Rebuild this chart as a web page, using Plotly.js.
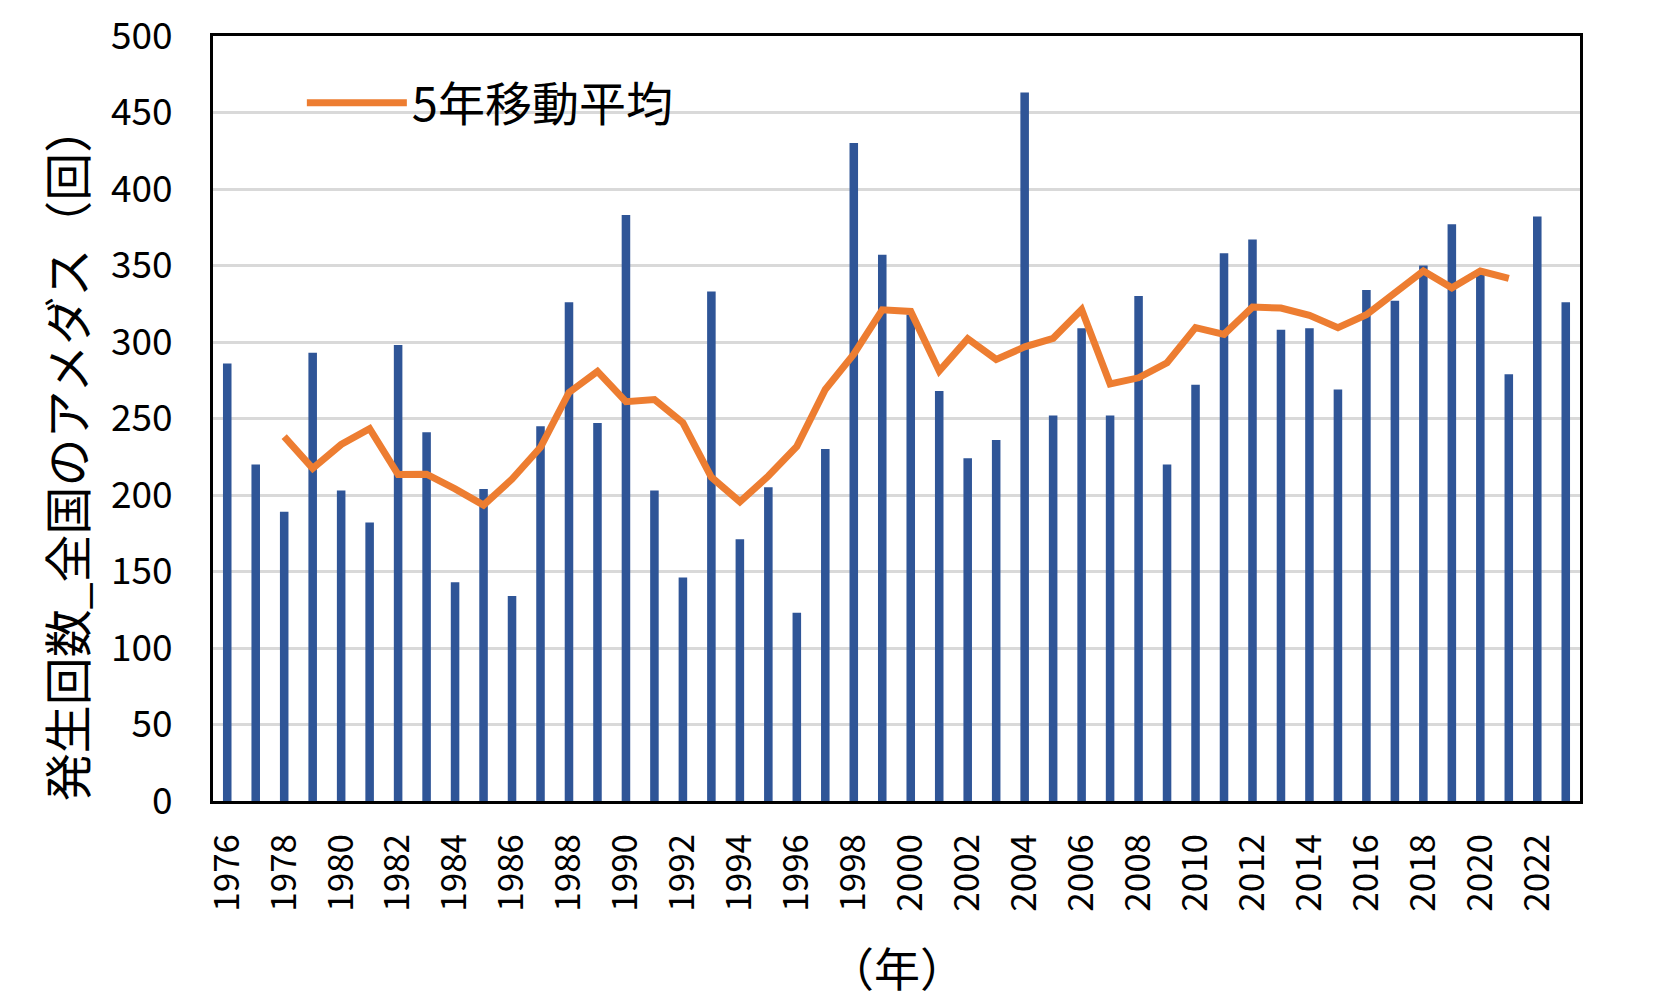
<!DOCTYPE html>
<html>
<head>
<meta charset="utf-8">
<script src="https://cdn.plot.ly/plotly-3.0.1.min.js"></script>
<style>
html,body{margin:0;padding:0;background:#fff;}
#chart{width:1677px;height:1005px;}
</style>
</head>
<body>
<div id="chart"></div>
<script>
// 年
var years = [1976,1977,1978,1979,1980,1981,1982,1983,1984,1985,1986,1987,1988,1989,1990,1991,1992,1993,1994,1995,1996,1997,1998,1999,2000,2001,2002,2003,2004,2005,2006,2007,2008,2009,2010,2011,2012,2013,2014,2015,2016,2017,2018,2019,2020,2021,2022,2023];
// 発生回数_全国のアメダス（回）
var counts = [286,220,189,293,203,182,298,241,143,204,134,245,326,247,383,203,146,333,171,205,123,230,430,357,318,268,224,236,463,252,309,252,330,220,272,358,367,308,309,269,334,327,350,377,345,279,382,326];
// 5年移動平均 (1978–2021)
var maYears = [1978,1979,1980,1981,1982,1983,1984,1985,1986,1987,1988,1989,1990,1991,1992,1993,1994,1995,1996,1997,1998,1999,2000,2001,2002,2003,2004,2005,2006,2007,2008,2009,2010,2011,2012,2013,2014,2015,2016,2017,2018,2019,2020,2021];
var maValues = [238.2,217.4,233,243.4,213.4,213.6,204,193.4,210.4,231.2,267,280.8,261,262.4,247.2,211.6,195.6,212.4,231.8,269,292,321,320,281,302.2,288.6,296.8,302.4,321.2,272.6,276.6,286.4,309.4,305,322.8,322.2,317.4,309.4,317.8,331.4,346.4,335.4,346.4,341.6];
// 目盛り
var xTickVals = [1976,1978,1980,1982,1984,1986,1988,1990,1992,1994,1996,1998,2000,2002,2004,2006,2008,2010,2012,2014,2016,2018,2020,2022];
var yTickVals = [0,50,100,150,200,250,300,350,400,450,500];

var FONT = '"Noto Sans CJK JP", "Noto Sans", sans-serif';

var traces = [
  {
    type: 'bar',
    x: years,
    y: counts,
    marker: {color: '#2F5597', line: {width: 0}},
    showlegend: false,
    hoverinfo: 'x+y'
  },
  {
    type: 'scatter',
    mode: 'lines',
    x: maYears,
    y: maValues,
    name: '5年移動平均',
    line: {color: '#ED7D31', width: 7},
    showlegend: true
  }
];

var layout = {
  width: 1677,
  height: 1005,
  margin: {l: 213, r: 97, t: 36, b: 204},
  paper_bgcolor: '#ffffff',
  plot_bgcolor: '#ffffff',
  font: {family: FONT, color: '#000000'},
  bargap: 0.7,
  xaxis: {
    range: [1975.5, 2023.5],
    tickmode: 'array',
    tickvals: xTickVals,
    ticktext: xTickVals.map(String),
    tickangle: -90,
    tickfont: {family: FONT, size: 35, color: '#000'},
    showgrid: false,
    zeroline: false,
    showline: true,
    linecolor: '#000',
    linewidth: 3,
    mirror: true,
    ticks: '',
    ticklabelstandoff: 16
  },
  yaxis: {
    range: [0, 500],
    tickmode: 'array',
    tickvals: yTickVals,
    ticktext: yTickVals.map(String),
    tickfont: {family: FONT, size: 37, color: '#000'},
    showgrid: true,
    gridcolor: '#D9D9D9',
    gridwidth: 3,
    zeroline: false,
    showline: true,
    linecolor: '#000',
    linewidth: 3,
    mirror: true,
    ticks: '',
    ticklabelstandoff: 30
  },
  legend: {
    x: 0.065,
    xanchor: 'left',
    y: 0.912,
    yanchor: 'middle',
    bgcolor: 'rgba(0,0,0,0)',
    font: {family: FONT, size: 47, color: '#000'},
    itemwidth: 100
  },
  annotations: [
    {
      text: '発生回数_全国のアメダス（回）',
      xref: 'paper', yref: 'paper',
      x: -0.108, y: 0.455,
      xanchor: 'center', yanchor: 'middle',
      textangle: -90,
      showarrow: false,
      font: {family: FONT, size: 48, color: '#000'}
    },
    {
      text: '（年）',
      xref: 'paper', yref: 'paper',
      x: 0.5, y: -0.2157,
      xanchor: 'center', yanchor: 'middle',
      showarrow: false,
      font: {family: FONT, size: 46, color: '#000'}
    }
  ]
};

Plotly.newPlot('chart', traces, layout, {displayModeBar: false, staticPlot: true});
</script>
</body>
</html>
